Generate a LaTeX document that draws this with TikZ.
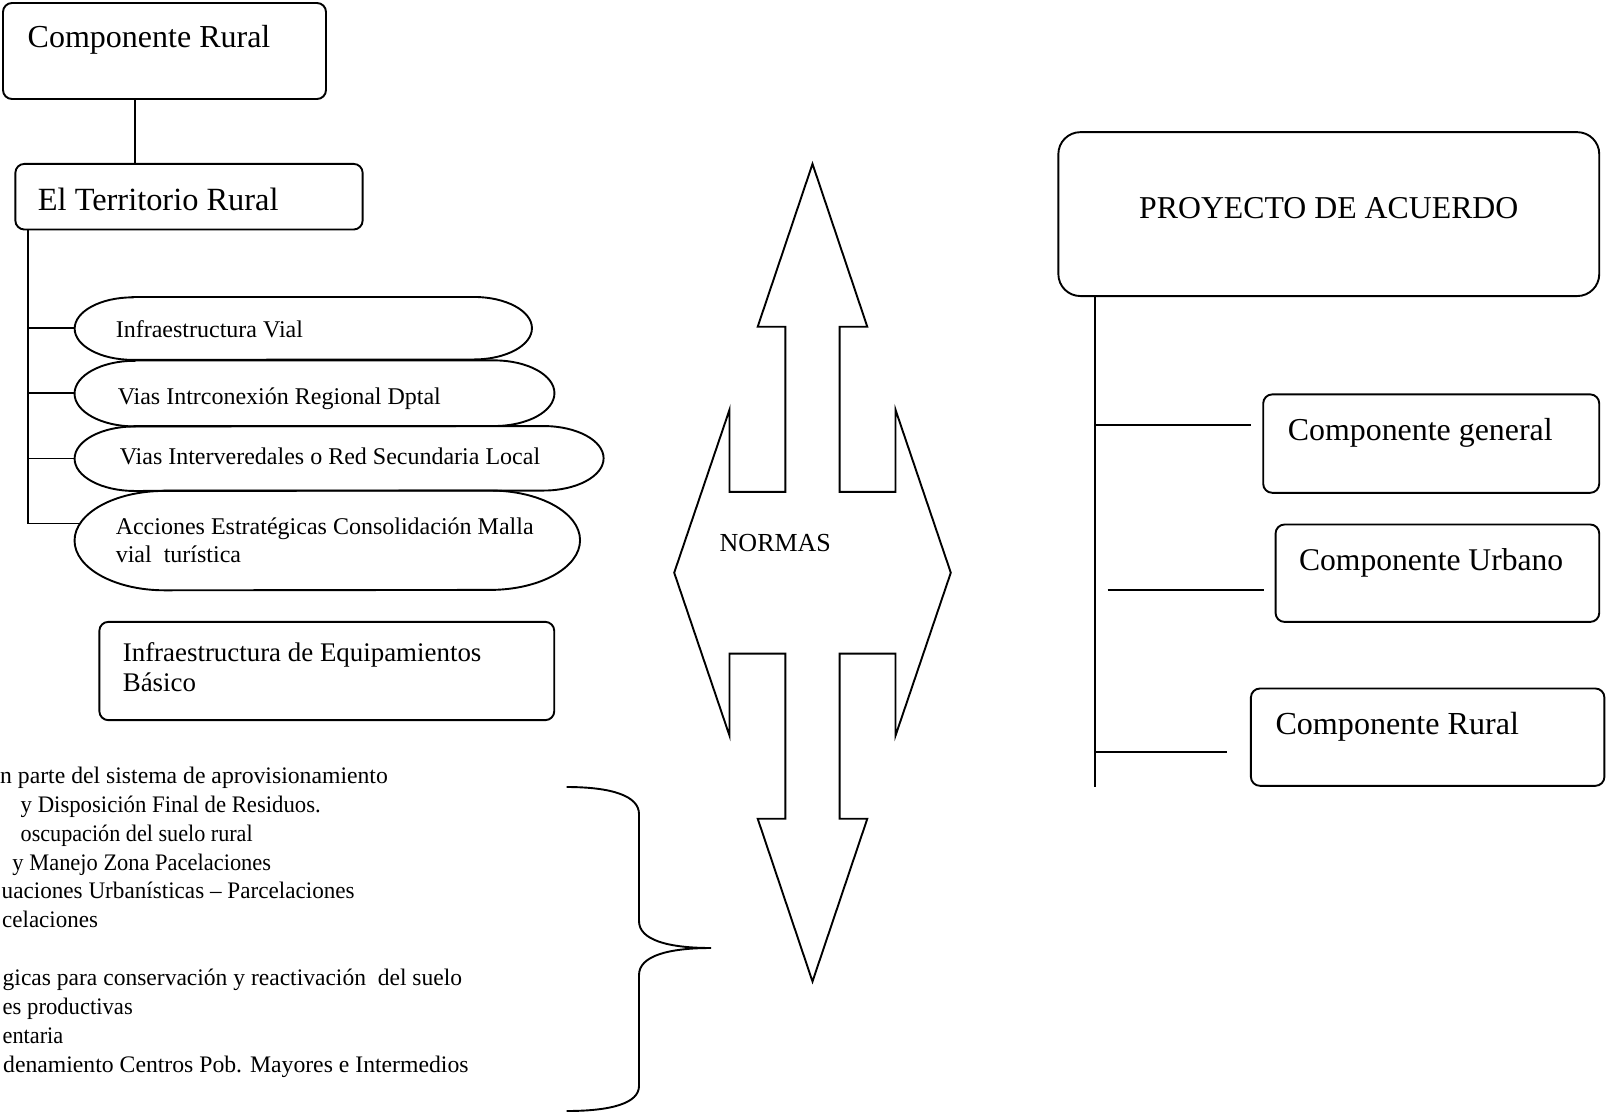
\documentclass[tikz,border=0pt]{standalone}
\usepackage{fontspec}
\usepackage{graphicx}
\setmainfont{Liberation Serif}
\usetikzlibrary{calc}
\newcommand{\pillshape}[3]{%
  \draw[ln] ([xshift=#2]#1.north west) -- ([xshift=-#2]#1.north east)
    arc[start angle=90,end angle=-90,x radius=#2,y radius=#3]
    -- ([xshift=#2]#1.south west)
    arc[start angle=270,end angle=90,x radius=#2,y radius=#3] -- cycle;}
\newcommand{\sqz}[2]{\scalebox{#1}[1]{#2}}
\begin{document}
\begin{tikzpicture}[x=1pt,y=-1pt,
  ln/.style={line width=1.9pt},
  rbox/.style={draw, line width=1.9pt, rounded corners=9pt, inner ysep=0pt, align=flush left},
  pilltext/.style={inner ysep=0pt, align=flush left, font=\fontsize{24}{28.7}\selectfont},
  body/.style={inner sep=0pt, anchor=base west, font=\fontsize{23.7}{28.85}\selectfont}]
\useasboundingbox (0,0) rectangle (1606,1114);

% ---------- left tree ----------
\node[rbox, font=\fontsize{32}{37}\selectfont, minimum width=323pt, minimum height=96pt,
  inner xsep=24.7pt, text width=273.6pt, text height=21pt, text depth=27.2pt]
  (cr) at (164.5,51) {Componente Rural};
\node[rbox, font=\fontsize{32.4}{38}\selectfont, minimum width=347.3pt, minimum height=65.6pt,
  inner xsep=22.5pt, text width=302.3pt, text height=27pt, text depth=0pt]
  (tr) at (189,196.7) {El Territorio Rural};
\coordinate (kx) at (135.2,0);
\draw[ln] (cr.south -| kx) -- (tr.north -| kx);

\node[pilltext, text height=22.5pt, text depth=5pt, minimum width=456.9pt, minimum height=62.5pt,
  inner xsep=41pt, text width=374.9pt]
  (e1) at (303.3,328.4) {Infraestructura Vial};
\node[pilltext, text height=26.5pt, text depth=5pt, minimum width=479.5pt, minimum height=65.6pt,
  inner xsep=43pt, text width=393.5pt]
  (e2) at (314.5,393.4) {Vias Intrconexión Regional Dptal};
\node[pilltext, text height=16.5pt, text depth=5pt, minimum width=528.6pt, minimum height=64.5pt,
  inner xsep=45pt, text width=438.6pt]
  (e3) at (339.1,458.5) {Vias Interveredales o Red Secundaria Local};
\node[pilltext, minimum width=505.1pt, minimum height=99.4pt, inner xsep=41pt, text width=423.1pt]
  (e4) at (327.3,540.4) {Acciones Estratégicas Consolidación Malla\\vial\ \ turística};
\pillshape{e1}{58pt}{31.25pt}
\pillshape{e2}{60pt}{32.8pt}
\pillshape{e3}{60pt}{32.25pt}
\pillshape{e4}{90pt}{49.7pt}

\coordinate (tx) at (27.7,0);
\coordinate (tend) at (27.7,523.5);
\coordinate (e4in) at (80.2,523.5);
\draw[ln] (tr.south -| tx) -- (tend) -- (e4in);
\draw[ln] (e1.west -| tx) -- (e1.west);
\draw[ln] (e2.west -| tx) -- (e2.west);
\draw[ln] (e3.west -| tx) -- (e3.west);

\node[rbox, font=\fontsize{26.9}{30.7}\selectfont, minimum width=454.9pt, minimum height=98.3pt,
  inner xsep=23.5pt, text width=407.9pt]
  (eq) at (326.8,671) {Infraestructura de Equipamientos\\Básico\rule[-8pt]{0pt}{8pt}};

% ---------- clipped list ----------
\node[body] (t1) at (0,783.5) {n parte del sistema de aprovisionamiento};
\node[body] (t2) at (20.5,812.35) {\sqz{0.96}{y Disposición Final de Residuos.}};
\node[body] (t3) at (20.5,841.2) {\sqz{0.935}{oscupación del suelo rural}};
\node[body] (t4) at (12.3,870.05) {\sqz{0.947}{y Manejo Zona Pacelaciones}};
\node[body] (t5) at (1.5,898.9) {\sqz{0.977}{uaciones Urbanísticas – Parcelaciones}};
\node[body] (t6) at (2,927.75) {\sqz{0.97}{celaciones}};
\node[body] (t8) at (2.5,985.45) {\sqz{0.993}{gicas para conservación y reactivación\ \ del suelo}};
\node[body] (t9) at (2.5,1014.3) {\sqz{0.955}{es productivas}};
\node[body] (t10) at (2.5,1043.15) {\sqz{0.94}{entaria}};
\node[body] (t11) at (3,1072) {denamiento Centros Pob. Mayores e Intermedios};

% ---------- brace ----------
\coordinate (btop) at (566.5,787);
\coordinate (btip) at (711,948);
\coordinate (bbot) at (566.5,1111);
\draw[ln] (btop) .. controls (612,787) and (639,796) .. (639,814)
  -- (639,921) .. controls (639,940) and (668,948) .. (btip)
  .. controls (668,948) and (639,956) .. (639,975)
  -- (639,1086) .. controls (639,1103) and (612,1111) .. (bbot);

% ---------- four-way arrow ----------
\draw[ln] (812.5,163.9) -- (867.3,326.7) -- (839.6,326.7) -- (839.6,491.8) -- (895.5,491.8)
  -- (895.5,409.7) -- (950.8,572.7) -- (895.5,735.7) -- (895.5,653.6) -- (839.6,653.6)
  -- (839.6,818.7) -- (867.3,818.7) -- (812.5,981.5) -- (757.7,818.7) -- (785.4,818.7)
  -- (785.4,653.6) -- (729.5,653.6) -- (729.5,735.7) -- (674.2,572.7) -- (729.5,409.7)
  -- (729.5,491.8) -- (785.4,491.8) -- (785.4,326.7) -- (757.7,326.7) -- cycle;
\node[inner sep=0pt, anchor=base west, font=\fontsize{26}{30}\selectfont] (normas) at (719.5,551.5) {NORMAS};

% ---------- right tree ----------
\node[rbox, rounded corners=22pt, align=center, font=\fontsize{31.8}{38}\selectfont,
  minimum width=540.9pt, minimum height=163.9pt, text height=22pt, text depth=13.4pt]
  (pa) at (1328.8,214.1) {PROYECTO DE ACUERDO};
\node[rbox, font=\fontsize{31.9}{38}\selectfont, minimum width=336pt, minimum height=98.4pt,
  inner xsep=24.6pt, text width=286.8pt, text height=21.5pt, text depth=27.8pt]
  (cg) at (1431.2,443.6) {Componente general};
\node[rbox, font=\fontsize{31.6}{38}\selectfont, minimum width=323.7pt, minimum height=97.4pt,
  inner xsep=23.5pt, text width=276.7pt, text height=21.5pt, text depth=26.8pt]
  (cu) at (1437.4,573.2) {Componente Urbano};
\node[rbox, font=\fontsize{32.1}{37}\selectfont, minimum width=353.5pt, minimum height=97.3pt,
  inner xsep=24.6pt, text width=304.3pt, text height=21pt, text depth=27pt]
  (crr) at (1427.65,737.15) {Componente Rural};

\coordinate (vx) at (1095.2,0);
\coordinate (vend) at (1095.2,786.8);
\coordinate (h1a) at (1095.2,425.2);
\coordinate (h1b) at (1250.9,425.2);
\coordinate (h2a) at (1107.5,590.1);
\coordinate (h2b) at (1264.2,590.1);
\coordinate (h3a) at (1095.2,752);
\coordinate (h3b) at (1227.4,752);
\draw[ln] (pa.south -| vx) -- (vend);
\draw[ln] (h1a) -- (h1b);
\draw[ln] (h2a) -- (h2b);
\draw[ln] (h3a) -- (h3b);
\end{tikzpicture}
\end{document}
